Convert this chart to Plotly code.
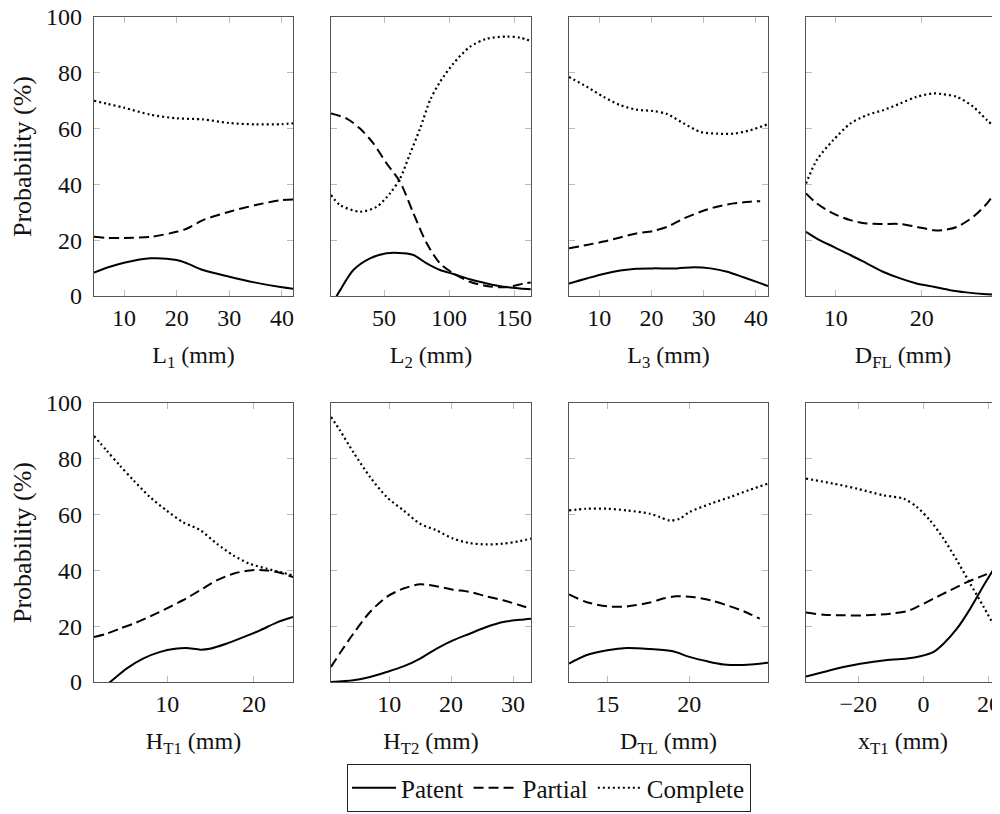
import plotly.graph_objects as go

# ---------------- data ----------------
panel_titles = ["L<sub>1</sub> (mm)", "L<sub>2</sub> (mm)", "L<sub>3</sub> (mm)", "D<sub>FL</sub> (mm)",
                "H<sub>T1</sub> (mm)", "H<sub>T2</sub> (mm)", "D<sub>TL</sub> (mm)", "x<sub>T1</sub> (mm)"]
x_ranges = [[4.3, 42.1], [9.2, 163.0], [4.2, 42.3], [6.55, 29.1],
            [1.55, 24.5], [0.6, 32.9], [12.66, 24.8], [-36.0, 23.4]]
x_ticks = [[10, 20, 30, 40], [50, 100, 150], [10, 20, 30, 40], [10, 20],
           [10, 20], [10, 20, 30], [15, 20], [-20, 0, 20]]
y_ticks = [0, 20, 40, 60, 80, 100]

# L1
l1_x_comp = [4.3, 7, 10, 15, 20, 25, 30, 35, 40, 42.1]
l1_comp = [70, 68.8, 67.5, 65, 63.7, 63.3, 62, 61.5, 61.6, 61.9]
l1_x_part = [4.3, 7, 10, 15, 20, 22, 25, 30, 35, 40, 42.1]
l1_part = [21.2, 20.8, 20.8, 21.2, 23, 24.2, 27.2, 30.2, 32.6, 34.4, 34.6]
l1_x_pat = [4.3, 7, 10, 15, 20, 22, 25, 30, 35, 40, 42.1]
l1_pat = [8.4, 10.3, 11.9, 13.5, 12.9, 11.7, 9.3, 6.9, 4.8, 3.1, 2.6]

# L2
l2_x_comp = [9.2, 16.2, 31.5, 44.4, 54.6, 62.3, 70, 77.7, 85.4, 93, 103.3, 116, 129, 144.4, 154.6, 162.8]
l2_comp = [36.2, 32.6, 30.2, 32, 36.8, 42.1, 51, 60, 70.2, 76.7, 83.3, 89.3, 92.2, 93, 92.6, 91.4]
l2_x_part = [9.2, 21.3, 31.5, 41.8, 52, 62.3, 72.6, 82.8, 93, 103.3, 116, 129, 141.8, 149.5, 157.2, 162.8]
l2_part = [65.4, 63.6, 60, 54.7, 47.5, 40.9, 29.6, 18.9, 11.7, 8.1, 5.1, 3.6, 3.1, 3.6, 4.5, 4.8]
l2_x_pat = [9.2, 13.6, 16.2, 26.4, 39.2, 52, 64.9, 72.6, 82.8, 93, 103.3, 116, 129, 141.8, 154.6, 162.8]
l2_pat = [-3.5, 0, 2.1, 9.3, 13.5, 15.3, 15.3, 14.7, 11.7, 9.3, 7.9, 6, 4.5, 3.3, 2.7, 2.4]

# L3
l3_x_comp = [4.2, 7.6, 10.8, 14, 17.1, 20.3, 23, 26.2, 29.4, 32.5, 35.7, 38.9, 42.3]
l3_comp = [78.5, 75, 71.4, 68.4, 66.8, 66.3, 65.2, 61.8, 58.8, 58.2, 58.2, 59.4, 61.6]
l3_x_part = [4.2, 7.6, 10.8, 14, 17.1, 20.3, 23, 26.2, 29.4, 32.5, 35.7, 38.9, 40.8]
l3_part = [17.1, 18.3, 19.5, 21, 22.4, 23.3, 24.8, 27.8, 30.2, 32, 33.2, 33.8, 34]
l3_x_pat = [4.2, 7.6, 10.8, 14, 17.1, 20.3, 24.9, 28.1, 31.3, 34.5, 37.6, 42.3]
l3_pat = [4.5, 6.3, 7.9, 9.1, 9.8, 9.9, 9.9, 10.3, 9.9, 8.7, 6.7, 3.6]

# D_FL
dfl_x_comp = [6.55, 7.8, 9.7, 11.7, 13.6, 15.5, 17.5, 19.4, 21.4, 22.5, 24.1, 26, 27.6, 29.1]
dfl_comp = [40.3, 48.7, 55.8, 61.8, 64.8, 66.6, 69, 71.4, 72.6, 72.3, 71.4, 67.8, 63, 58.8]
dfl_x_part = [6.55, 7.8, 9.7, 11.7, 13.6, 15.5, 17.5, 19.4, 21.4, 22.5, 24.1, 26, 27.6, 29.1]
dfl_part = [36.8, 33.2, 29.6, 27.2, 26, 25.8, 25.8, 24.8, 23.6, 23.6, 24.8, 28.4, 33.2, 39.7]
dfl_x_pat = [6.55, 7.8, 9.7, 11.7, 13.6, 15.5, 17.5, 19.4, 21.4, 23.3, 25.2, 27.2, 29.1]
dfl_pat = [23, 20.6, 17.7, 14.7, 11.7, 8.7, 6.3, 4.5, 3.3, 2.1, 1.3, 0.7, 0.4]

# H_T1
ht1_x_comp = [1.55, 3, 4.5, 6.1, 8, 9.9, 11.8, 13.8, 15.7, 17.6, 19.5, 21.5, 23.4, 24.5]
ht1_comp = [88.2, 83, 77.7, 72.3, 66.3, 61.5, 57.3, 54.4, 49.6, 45.4, 42.4, 40.6, 39.1, 38.2]
ht1_x_part = [1.55, 3, 4.5, 6.1, 8, 9.9, 11.8, 13.8, 15.7, 17.6, 19.5, 21.5, 23.4, 24.5]
ht1_part = [16.1, 17.3, 19.1, 20.9, 23.5, 26.3, 29.3, 32.9, 36.4, 38.8, 40, 40, 38.8, 37.6]
ht1_x_pat = [1.55, 3.4, 5.3, 7.2, 9.2, 10.9, 12.2, 13.8, 14.9, 16.8, 18.8, 20.7, 22.6, 24.5]
ht1_pat = [-4, 0, 4.8, 8.4, 10.8, 11.9, 12.2, 11.6, 11.9, 13.7, 16.1, 18.5, 21.3, 23.3]

# H_T2
ht2_x_comp = [0.6, 2.04, 4.2, 6.9, 9.6, 12.3, 15, 17.6, 20.3, 23, 25.7, 28.4, 31.1, 32.9]
ht2_comp = [95, 90.2, 82.4, 73.5, 66.3, 61.5, 56.7, 54.4, 51.4, 49.8, 49.3, 49.6, 50.5, 51.4]
ht2_x_part = [0.6, 2, 4.2, 6.9, 9.6, 12.3, 15, 17.6, 20.3, 23, 25.7, 28.4, 31.1, 32.9]
ht2_part = [5.4, 10.2, 17.3, 25.1, 30.5, 33.5, 35, 34.3, 33.1, 32.3, 30.7, 29.3, 27.5, 26.3]
ht2_x_pat = [0.6, 4.2, 6.9, 9.6, 12.3, 15, 17.6, 20.3, 23, 25.7, 28.4, 31.1, 32.9]
ht2_pat = [0, 0.6, 1.8, 3.6, 5.6, 8.4, 11.9, 14.9, 17.3, 19.7, 21.5, 22.3, 22.7]

# D_TL
dtl_x_comp = [12.66, 13.7, 15, 16.2, 17.6, 18.2, 18.8, 19.4, 20, 21.3, 22.5, 23.7, 24.8]
dtl_comp = [61.5, 62.1, 62.1, 61.5, 60.3, 59.1, 57.9, 58.5, 60.9, 63.9, 66.3, 68.9, 71.1]
dtl_x_part = [12.66, 13.7, 15, 16.2, 17.6, 18.4, 19.2, 20.2, 21.3, 22.3, 23.3, 24.3]
dtl_part = [31.4, 28.7, 27.1, 27.1, 28.5, 29.9, 30.7, 30.5, 29.3, 27.5, 25.4, 22.7]
dtl_x_pat = [12.66, 13.7, 15, 16.2, 17.6, 19, 20, 21.1, 22.1, 23.3, 24.8]
dtl_pat = [6.6, 9.6, 11.4, 12.2, 11.8, 11, 9, 7.4, 6.3, 6.1, 6.9]

# x_T1
xt1_x_comp = [-36, -27.6, -20.4, -12.2, -6.1, -2, 2, 6.1, 10.2, 14.3, 18.4, 23.5]
xt1_comp = [72.9, 71.1, 69.3, 66.9, 65.7, 62.7, 57.9, 51.4, 43.6, 35.2, 26.9, 16.1]
xt1_x_part = [-36, -30.6, -24.5, -17.3, -10.2, -5.1, -2, 3.1, 8.2, 13.3, 18.4, 23.5]
xt1_part = [24.9, 24.1, 23.9, 23.9, 24.5, 25.4, 26.9, 29.9, 32.9, 35.8, 38.2, 40.6]
xt1_x_pat = [-36, -30.6, -24.5, -17.3, -10.2, -5.1, -1, 3.1, 6.1, 10.2, 14.3, 18.4, 23.5]
xt1_pat = [2, 3.6, 5.4, 6.9, 8, 8.4, 9.2, 10.8, 13.7, 19.1, 26.3, 34.6, 44.2]

panels = [
    (l1_x_pat, l1_pat, l1_x_part, l1_part, l1_x_comp, l1_comp),
    (l2_x_pat, l2_pat, l2_x_part, l2_part, l2_x_comp, l2_comp),
    (l3_x_pat, l3_pat, l3_x_part, l3_part, l3_x_comp, l3_comp),
    (dfl_x_pat, dfl_pat, dfl_x_part, dfl_part, dfl_x_comp, dfl_comp),
    (ht1_x_pat, ht1_pat, ht1_x_part, ht1_part, ht1_x_comp, ht1_comp),
    (ht2_x_pat, ht2_pat, ht2_x_part, ht2_part, ht2_x_comp, ht2_comp),
    (dtl_x_pat, dtl_pat, dtl_x_part, dtl_part, dtl_x_comp, dtl_comp),
    (xt1_x_pat, xt1_pat, xt1_x_part, xt1_part, xt1_x_comp, xt1_comp),
]
series_names = ["Patent", "Partial", "Complete"]

# ---------------- layout ----------------
OFF = 8                      # page body margin
W, H = 1000 - OFF, 814 - OFF
col_px = [(94, 293), (331, 531), (569, 768), (806, 1000)]   # screen px
row_px = [(17, 296), (403, 682)]
FONT = "Liberation Serif"
FS = 24

styles = [dict(color="black", width=2, dash="solid"),
          dict(color="black", width=2, dash="10px,5px"),
          dict(color="black", width=2.2, dash="2px,3px")]

fig = go.Figure()
layout = dict(width=W, height=H, margin=dict(l=0, r=0, t=0, b=0, autoexpand=False),
              paper_bgcolor="white", plot_bgcolor="white",
              font=dict(family=FONT, size=FS, color="#111"),
              showlegend=True)

for i in range(8):
    r, c = divmod(i, 4)
    k = "" if i == 0 else str(i + 1)
    xa, ya = "x" + k, "y" + k
    data = panels[i]
    for s in range(3):
        fig.add_trace(go.Scatter(
            x=data[2 * s], y=data[2 * s + 1], mode="lines", name=series_names[s],
            line=dict(shape="spline", smoothing=0.8, **styles[s]),
            xaxis=xa, yaxis=ya, legendgroup=series_names[s], showlegend=(i == 0),
            hoverinfo="skip"))
    x0, x1 = (p - OFF for p in col_px[c])
    top, bot = (p - OFF for p in row_px[r])
    cut = (c == 3)
    layout["xaxis" + k] = dict(
        domain=[x0 / W, min(1.0, x1 / W)], anchor=ya, range=x_ranges[i], tickvals=x_ticks[i],
        automargin=False, ticklabeloverflow="allow",
        showgrid=False, zeroline=False, showline=True, linecolor="#555", linewidth=1.2,
        mirror="ticks", ticks="inside", ticklen=6, tickcolor="#bbb", tickwidth=1,
        ticklabelstandoff=0,
        title=dict(text=panel_titles[i], font=dict(size=FS), standoff=16))
    layout["yaxis" + k] = dict(
        domain=[(H - bot) / H, (H - top) / H], anchor=xa, range=[0, 100], tickvals=y_ticks,
        automargin=False, ticklabeloverflow="allow",
        showgrid=False, zeroline=False, showline=True, linecolor="#555", linewidth=1.2,
        mirror=False if cut else "ticks", ticks="inside", ticklen=6, tickcolor="#bbb",
        tickwidth=1, showticklabels=(c == 0), ticklabelstandoff=6,
        title=dict(text="Probability (%)" if c == 0 else "", font=dict(size=26), standoff=16))

layout["legend"] = dict(orientation="h", x=(549 - OFF) / W, xanchor="center",
                        y=(814 - 812) / H, yanchor="bottom",
                        bordercolor="#222", borderwidth=1, bgcolor="white",
                        font=dict(family=FONT, size=25, color="#111"),
                        itemwidth=44, tracegroupgap=0)
fig.update_layout(**layout)

fig.write_html("out.html")
